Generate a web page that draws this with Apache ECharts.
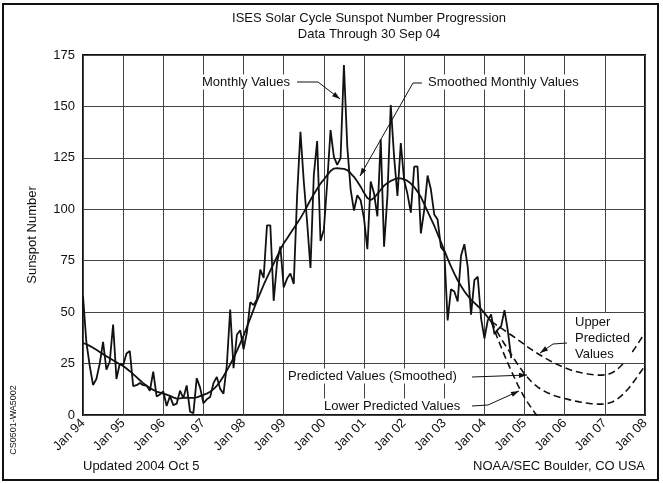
<!DOCTYPE html>
<html>
<head>
<meta charset="utf-8">
<script src="https://cdn.jsdelivr.net/npm/echarts@6/dist/echarts.min.js"></script>
<style>
  html, body { margin: 0; padding: 0; background: #fff; }
  #main { width: 663px; height: 483px; }
</style>
</head>
<body>
<div id="main"></div>
<script>
// x axis is months since Jan 1994, labels every 12 months
const xLabels = ['Jan 94', 'Jan 95', 'Jan 96', 'Jan 97', 'Jan 98', 'Jan 99', 'Jan 00',
  'Jan 01', 'Jan 02', 'Jan 03', 'Jan 04', 'Jan 05', 'Jan 06', 'Jan 07', 'Jan 08'];

// monthly values, Jan 94 .. Sep 04
const monthly = [
  57.9, 35.5, 24.0, 14.6, 17.5, 25.0, 35.5, 22.0, 26.0, 44.0, 17.5, 25.0,
  24.2, 29.9, 31.1, 14.0, 14.5, 15.6, 14.5, 14.3, 11.8, 21.1, 9.0, 10.0,
  11.5, 4.4, 9.2, 4.8, 5.5, 11.8, 8.2, 14.4, 1.6, 0.9, 17.9, 13.3,
  5.7, 7.6, 8.7, 15.5, 18.5, 12.7, 10.4, 24.4, 51.3, 22.8, 39.0, 41.2,
  31.9, 40.3, 54.8, 53.4, 56.3, 70.7, 66.6, 92.2, 92.2, 55.5, 74.0, 81.9,
  62.0, 66.3, 68.8, 63.7, 106.4, 137.7, 113.5, 93.7, 71.5, 116.7, 133.2, 84.6,
  90.1, 112.9, 138.5, 125.5, 121.6, 124.9, 170.1, 130.5, 109.7, 99.4, 106.8, 104.4,
  95.6, 80.6, 113.5, 107.7, 96.6, 134.0, 81.8, 106.4, 150.7, 125.5, 106.5, 132.2,
  114.1, 107.4, 98.4, 120.7, 120.8, 88.3, 99.6, 116.4, 109.6, 97.5, 95.0, 81.6,
  79.5, 46.0, 61.1, 60.0, 55.2, 77.4, 83.0, 72.1, 48.8, 65.6, 67.2, 47.0,
  37.2, 46.0, 48.9, 39.3, 41.5, 43.2, 51.0, 40.9, 27.7
];

// smoothed monthly values, Jan 94 .. Mar 04
const smoothed = [
  35.0, 34.4, 33.6, 32.7, 31.7, 30.6, 29.6, 28.6, 27.6, 26.6, 25.6, 24.7,
  23.8, 22.6, 21.3, 19.9, 18.4, 16.9, 15.5, 14.2, 13.1, 12.2, 11.4, 10.9,
  10.4, 9.9, 9.3, 8.6, 8.0, 8.1, 8.3, 8.4, 8.3, 8.3, 8.6, 9.2,
  9.8, 10.4, 11.3, 12.6, 14.2, 16.3, 18.8, 21.6, 24.6, 27.8, 31.2, 34.8,
  38.6, 42.8, 47.0, 51.3, 55.5, 59.4, 63.2, 66.8, 70.2, 73.6, 77.0, 80.3,
  83.5, 85.8, 88.3, 90.8, 93.2, 95.7, 98.5, 101.5, 104.5, 107.3, 110.0, 112.5,
  114.5, 116.6, 118.6, 119.8, 120.0, 119.8, 119.6, 119.0, 117.5, 115.8, 113.5, 111.0,
  108.0, 105.5, 104.5, 105.5, 107.5, 109.5, 111.5, 112.8, 113.8, 114.5, 115.0, 115.0,
  114.6, 113.8, 112.5, 110.8, 108.6, 106.0, 102.5, 99.0, 95.5, 92.0, 88.0, 84.0,
  80.0, 76.0, 72.2, 68.7, 65.5, 62.7, 60.2, 58.0, 56.0, 54.5, 53.0, 51.5,
  49.5, 47.5, 45.5
];

// predictions start at Mar 04 (month 122)
const predStart = 122;
const upperPred = [
  45.5, 44.4, 43.3, 42.2, 41.1, 40.0, 38.9, 37.8, 36.6, 35.4, 34.2, 33.0,
  31.9, 30.8, 29.8, 28.8, 27.8, 26.9, 26.0, 25.2, 24.4, 23.7, 23.0, 22.4,
  21.8, 21.3, 20.9, 20.5, 20.2, 19.9, 19.7, 19.5, 19.4, 19.4, 19.5, 19.8,
  20.4, 21.3, 22.6, 24.2, 26.0, 28.0, 30.2, 32.5, 35.0, 37.5, 40.0
];
const midPred = [
  45.5, 42.7, 39.9, 37.1, 34.5, 32.0, 29.5, 27.0, 24.5, 22.2, 20.0, 18.1,
  16.3, 14.8, 13.5, 12.4, 11.5, 10.7, 10.0, 9.4, 8.9, 8.4, 8.0, 7.6,
  7.2, 6.8, 6.5, 6.2, 5.9, 5.7, 5.5, 5.4, 5.3, 5.3, 5.4, 5.7,
  6.2, 7.0, 8.1, 9.4, 11.0, 12.8, 14.8, 17.0, 19.3, 21.6, 24.0
];
const lowerPred = [
  45.5, 41.2, 37.0, 33.0, 29.0, 25.2, 21.5, 18.0, 14.5, 11.4, 8.5, 5.9,
  3.5, 1.2, -1.0, -3.2
];

function toPairs(arr, start) {
  return arr.map((v, i) => [start + i, v]);
}

const ink = '#111';
const font = "'Liberation Sans', Arial, sans-serif";

// annotation: a polyline leader ending in a filled arrow head
function leader(pts) {
  const n = pts.length;
  const [x1, y1] = pts[n - 2];
  const [x2, y2] = pts[n - 1];
  const a = Math.atan2(y2 - y1, x2 - x1);
  const L = 8, W = 2.6;
  const c = Math.cos(a), s = Math.sin(a);
  const tri = [
    [x2, y2],
    [x2 - L * c + W * s, y2 - L * s - W * c],
    [x2 - L * c - W * s, y2 - L * s + W * c]
  ];
  return [
    { type: 'polyline', z: 100, shape: { points: pts }, style: { stroke: ink, lineWidth: 1, fill: null } },
    { type: 'polygon', z: 100, shape: { points: tri }, style: { fill: ink } }
  ];
}

function label(text, x, y, align) {
  return {
    type: 'text', z: 101, x: x, y: y,
    style: {
      text: text, fill: ink, font: '13px ' + font,
      align: align || 'left', verticalAlign: 'middle',
      backgroundColor: '#fff', padding: [1, 2]
    }
  };
}

const myChart = echarts.init(document.getElementById('main'));
myChart.setOption({
  backgroundColor: '#fff',
  animation: false,
  textStyle: { fontFamily: font, color: ink },
  title: {
    text: 'ISES Solar Cycle Sunspot Number Progression',
    subtext: 'Data Through 30 Sep 04',
    left: 364, top: 7, textAlign: 'center', itemGap: 3,
    textStyle: { fontSize: 13, fontWeight: 'normal', color: ink, fontFamily: font },
    subtextStyle: { fontSize: 13, color: ink, fontFamily: font }
  },
  grid: {
    left: 83, right: 18, top: 55, bottom: 68,
    show: true, borderColor: ink, borderWidth: 2
  },
  xAxis: {
    type: 'value', min: 0, max: 168, interval: 12,
    axisLine: { show: false }, axisTick: { show: false },
    axisLabel: {
      rotate: 45, fontSize: 13, color: ink, margin: 6,
      formatter: v => xLabels[v / 12]
    },
    splitLine: { show: true, lineStyle: { color: '#444', width: 1 } }
  },
  yAxis: {
    type: 'value', min: 0, max: 175, interval: 25,
    name: 'Sunspot Number', nameLocation: 'middle', nameGap: 44,
    nameTextStyle: { fontSize: 13, color: ink },
    axisLine: { show: false }, axisTick: { show: false },
    axisLabel: { fontSize: 13, color: ink, margin: 8 },
    splitLine: { show: true, lineStyle: { color: '#444', width: 1 } }
  },
  series: [
    { name: 'Monthly Values', type: 'line', data: toPairs(monthly, 0), showSymbol: false,
      lineStyle: { color: ink, width: 1.8 } },
    { name: 'Smoothed Monthly Values', type: 'line', data: toPairs(smoothed, 0), showSymbol: false,
      lineStyle: { color: ink, width: 1.8 } },
    { name: 'Upper Predicted Values', type: 'line', data: toPairs(upperPred, predStart), showSymbol: false,
      lineStyle: { color: ink, width: 1.6, type: [7, 4] } },
    { name: 'Predicted Values (Smoothed)', type: 'line', data: toPairs(midPred, predStart), showSymbol: false,
      lineStyle: { color: ink, width: 1.6, type: [7, 4] } },
    { name: 'Lower Predicted Values', type: 'line', data: toPairs(lowerPred, predStart), showSymbol: false,
      clip: true, lineStyle: { color: ink, width: 1.6, type: [7, 4] } }
  ],
  graphic: [
    // outer frame
    { type: 'rect', z: 100, shape: { x: 3, y: 4, width: 655, height: 476 },
      style: { fill: null, stroke: ink, lineWidth: 2 } },
    label('Monthly Values', 200, 82),
    ...leader([[297, 82], [318, 82], [340, 99]]),
    label('Smoothed Monthly Values', 426, 82),
    ...leader([[422, 83], [413, 83], [360, 176]]),
    label('Predicted Values (Smoothed)', 286, 376),
    ...leader([[472, 377], [527, 375]]),
    label('Lower Predicted Values', 322, 406),
    ...leader([[472, 406], [488, 405], [519, 391]]),
    { type: 'text', z: 101, x: 573, y: 338,
      style: { text: 'Upper\nPredicted\nValues', fill: ink, font: '13px ' + font,
        lineHeight: 16, align: 'left', verticalAlign: 'middle', backgroundColor: '#fff', padding: [1, 2] } },
    ...leader([[567, 343], [553, 344], [540, 353]]),
    { type: 'text', z: 101, x: 83, y: 466,
      style: { text: 'Updated 2004 Oct 5', fill: ink, font: '13px ' + font, verticalAlign: 'middle' } },
    { type: 'text', z: 101, x: 645, y: 466,
      style: { text: 'NOAA/SEC Boulder, CO USA', fill: ink, font: '13px ' + font, align: 'right', verticalAlign: 'middle' } },
    { type: 'text', z: 101, x: 14, y: 420, rotation: Math.PI / 2,
      style: { text: 'CS0501-WA5002', fill: ink, font: '9px ' + font, align: 'center', verticalAlign: 'middle' } }
  ]
});
</script>
</body>
</html>
